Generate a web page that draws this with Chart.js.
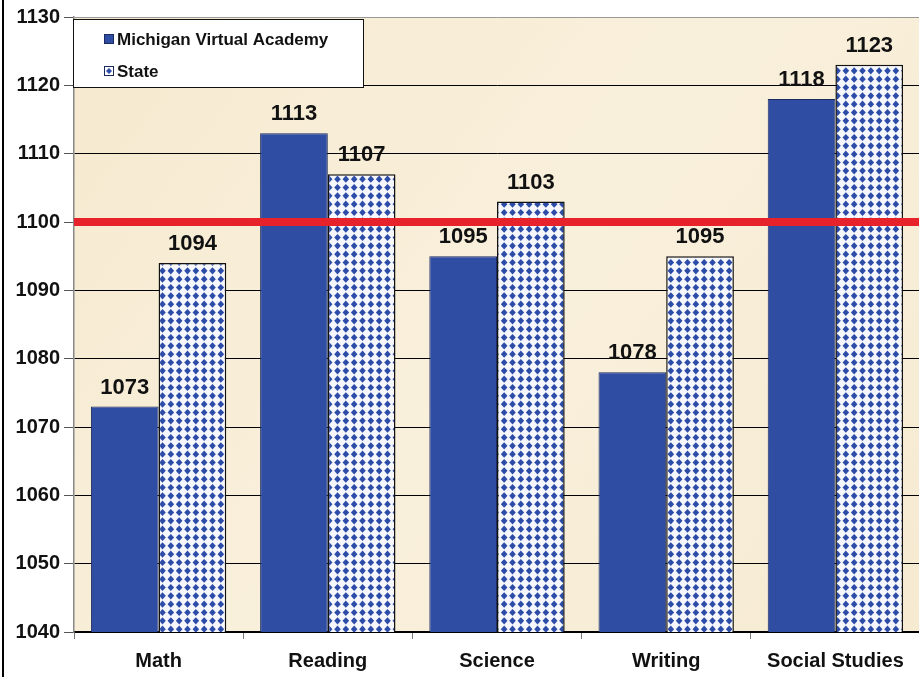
<!DOCTYPE html>
<html>
<head>
<meta charset="utf-8">
<script src="https://cdn.jsdelivr.net/npm/chart.js@4/dist/chart.umd.min.js"></script>
<style>
  html, body { margin: 0; padding: 0; background: #fff; overflow: hidden; }
  #wrap { width: 920px; height: 677px; }
</style>
</head>
<body>
<div id="wrap"><canvas id="scoreChart" width="920" height="677"></canvas></div>
<script>
  const categories = ["Math", "Reading", "Science", "Writing", "Social Studies"];
  const mvaScores = [1073, 1113, 1095, 1078, 1118];
  const stateScores = [1094, 1107, 1103, 1095, 1123];
  const legendLabels = ["Michigan Virtual Academy", "State"];
  const yMin = 1040;
  const yMax = 1130;
  const yStep = 10;
  const targetScore = 1100;

  const fontFamily = "'Liberation Sans', Arial, sans-serif";
  const mvaBlue = "#2f4da3";
  const diamondBlue = "#2c4ca8";

  // diamond check pattern for the State bars
  function makeDiamondPattern() {
    const tile = document.createElement("canvas");
    tile.width = 25;
    tile.height = 25;
    const t = tile.getContext("2d");
    t.fillStyle = "#f6f7fc";
    t.fillRect(0, 0, 25, 25);
    t.fillStyle = diamondBlue;
    const step = 25 / 3;
    for (let i = 0; i < 3; i++) {
      for (let j = 0; j < 3; j++) {
        const cx = step / 2 + i * step;
        const cy = step / 2 + j * step;
        t.beginPath();
        t.moveTo(cx, cy - 3.6);
        t.lineTo(cx + 3.3, cy);
        t.lineTo(cx, cy + 3.6);
        t.lineTo(cx - 3.3, cy);
        t.closePath();
        t.fill();
      }
    }
    return t.createPattern(tile, "repeat");
  }

  const canvas = document.getElementById("scoreChart");
  const ctx = canvas.getContext("2d");
  const statePattern = makeDiamondPattern();

  const backdropPlugin = {
    id: "backdrop",
    beforeDraw: function (chart) {
      const c = chart.ctx;
      const a = chart.chartArea;
      c.save();
      c.fillStyle = "#ffffff";
      c.fillRect(0, 0, chart.width, chart.height);
      const g = c.createLinearGradient(a.left, a.top, a.right, a.bottom);
      g.addColorStop(0, "#f6e9cf");
      g.addColorStop(0.5, "#f9f0dc");
      g.addColorStop(1, "#f6ead1");
      c.fillStyle = g;
      c.fillRect(a.left, a.top, a.right - a.left, a.bottom - a.top);
      // outer frame line on the left edge
      c.fillStyle = "#000";
      c.fillRect(2, 0, 2, chart.height);
      c.restore();
    },
    afterDatasetsDraw: function (chart) {
      const c = chart.ctx;
      const a = chart.chartArea;
      const yScale = chart.scales.y;

      // red reference line
      const ry = yScale.getPixelForValue(targetScore);
      c.save();
      c.strokeStyle = "#e8222a";
      c.lineWidth = 8;
      c.beginPath();
      c.moveTo(a.left, ry);
      c.lineTo(chart.width, ry);
      c.stroke();

      // value labels
      c.fillStyle = "#111";
      c.font = "bold 22px " + fontFamily;
      c.textAlign = "center";
      c.textBaseline = "alphabetic";
      chart.data.datasets.forEach(function (ds, di) {
        const meta = chart.getDatasetMeta(di);
        meta.data.forEach(function (bar, i) {
          c.fillText(String(ds.data[i]), bar.x, bar.y - 13);
        });
      });

      // legend box
      const lx = a.left - 1;
      const ly = a.top + 2;
      c.fillStyle = "#fff";
      c.fillRect(lx, ly, 290, 68);
      c.strokeStyle = "#111";
      c.lineWidth = 1;
      c.strokeRect(lx + 0.5, ly + 0.5, 290, 68);

      c.font = "bold 17px " + fontFamily;
      c.textAlign = "left";
      c.textBaseline = "middle";
      const rows = [ly + 20, ly + 52];
      // MVA marker
      c.fillStyle = mvaBlue;
      c.fillRect(lx + 31, rows[0] - 5, 10, 10);
      c.strokeStyle = "#1b2a5c";
      c.strokeRect(lx + 31.5, rows[0] - 4.5, 9, 9);
      // State marker
      c.fillStyle = "#fff";
      c.fillRect(lx + 31, rows[1] - 5, 10, 10);
      c.strokeStyle = "#1b2a5c";
      c.strokeRect(lx + 31.5, rows[1] - 4.5, 9, 9);
      c.fillStyle = diamondBlue;
      c.beginPath();
      c.moveTo(lx + 36, rows[1] - 3);
      c.lineTo(lx + 39, rows[1]);
      c.lineTo(lx + 36, rows[1] + 3);
      c.lineTo(lx + 33, rows[1]);
      c.closePath();
      c.fill();

      c.fillStyle = "#111";
      c.fillText(legendLabels[0], lx + 44, rows[0] + 1);
      c.fillText(legendLabels[1], lx + 44, rows[1] + 1);
      c.restore();
    }
  };

  new Chart(ctx, {
    type: "bar",
    data: {
      labels: categories,
      datasets: [
        {
          label: legendLabels[0],
          data: mvaScores,
          backgroundColor: mvaBlue,
          borderColor: "#1d2b5e",
          borderWidth: 1,
          categoryPercentage: 0.8,
          barPercentage: 1.0
        },
        {
          label: legendLabels[1],
          data: stateScores,
          backgroundColor: statePattern,
          borderColor: "#111",
          borderWidth: 1.5,
          categoryPercentage: 0.8,
          barPercentage: 1.0
        }
      ]
    },
    options: {
      responsive: false,
      animation: false,
      layout: { padding: { top: 17, left: 0, right: 0, bottom: 0 } },
      plugins: {
        legend: { display: false },
        tooltip: { enabled: false }
      },
      scales: {
        x: {
          afterFit: function (scale) { scale.height = 45; },
          grid: {
            drawOnChartArea: false,
            drawTicks: true,
            tickLength: 7,
            offset: true,
            tickColor: "#777"
          },
          border: { display: true, color: "#000", width: 1.5 },
          ticks: {
            color: "#111",
            padding: 10,
            font: { family: fontFamily, size: 20, weight: "bold" }
          }
        },
        y: {
          min: yMin,
          max: yMax,
          afterFit: function (scale) { scale.width = 74; },
          grid: {
            color: function (context) {
              return context.tick && context.tick.value === yMax ? "#999" : "#000";
            },
            lineWidth: 1,
            tickLength: 10,
            tickColor: "#555"
          },
          border: { display: true, color: "#888", width: 1.5 },
          ticks: {
            stepSize: yStep,
            color: "#111",
            padding: 4,
            font: { family: fontFamily, size: 20, weight: "bold" },
            callback: function (value) { return String(value); }
          }
        }
      }
    },
    plugins: [backdropPlugin]
  });
</script>
</body>
</html>
